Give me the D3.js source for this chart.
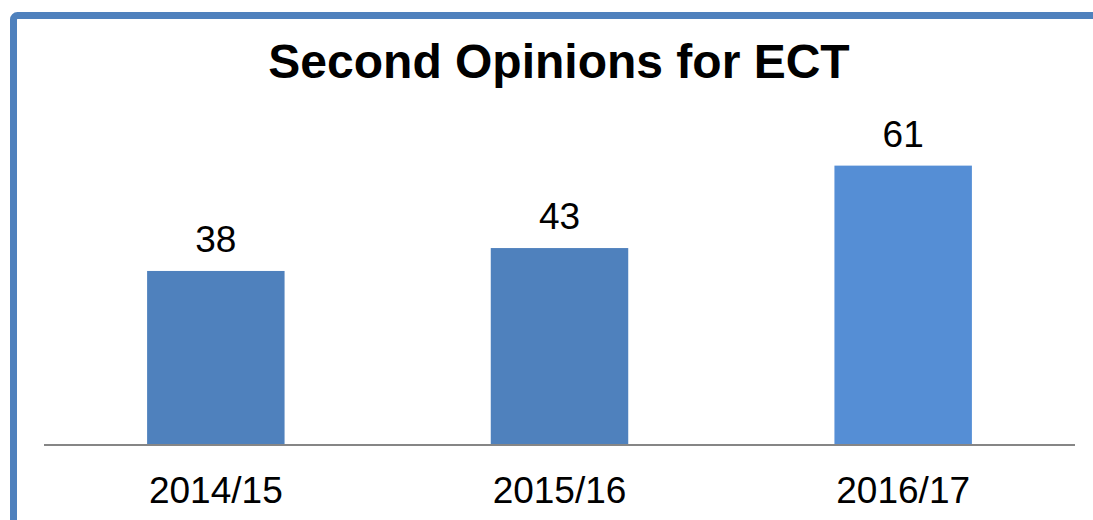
<!DOCTYPE html>
<html>
<head>
<meta charset="utf-8">
<script src="https://cdn.jsdelivr.net/npm/d3@7"></script>
<style>
html,body{margin:0;padding:0;background:#fff;overflow:hidden;}
svg{display:block;font-family:"Liberation Sans",Arial,sans-serif;}
</style>
</head>
<body>
<svg id="chart" width="1093" height="520"></svg>
<script>
const title = "Second Opinions for ECT";
const categories = ["2014/15", "2015/16", "2016/17"];
const values = [38, 43, 61];
const barColors = ["#4F81BD", "#4F81BD", "#558ED5"];

const svg = d3.select("#chart");
const W = 1093, H = 520;

// frame border (top and left visible)
svg.append("rect")
  .attr("x", 13.5).attr("y", 15.5)
  .attr("width", W + 20).attr("height", H + 20)
  .attr("rx", 4)
  .attr("fill", "none")
  .attr("stroke", "#4F81BD")
  .attr("stroke-width", 7);

const baseline = 445;
const x = d3.scaleBand().domain(categories).range([44, 1075]).paddingInner(0.6).paddingOuter(0.3);
const y = d3.scaleLinear().domain([0, 70]).range([baseline, baseline - 320.6]);

svg.append("text")
  .attr("x", 559).attr("y", 78)
  .attr("text-anchor", "middle")
  .attr("font-weight", "bold")
  .attr("font-size", 48)
  .attr("fill", "#000")
  .text(title);

svg.selectAll("rect.bar").data(values).enter().append("rect")
  .attr("class", "bar")
  .attr("x", (d, i) => x(categories[i]))
  .attr("y", d => y(d))
  .attr("width", x.bandwidth())
  .attr("height", d => y(0) - y(d))
  .attr("fill", (d, i) => barColors[i]);

svg.selectAll("text.val").data(values).enter().append("text")
  .attr("class", "val")
  .attr("x", (d, i) => x(categories[i]) + x.bandwidth() / 2)
  .attr("y", d => y(d) - 19)
  .attr("text-anchor", "middle")
  .attr("font-size", 37)
  .attr("fill", "#000")
  .text(d => d);

// category axis
const axis = d3.axisBottom(x).tickSize(0).tickPadding(0);
const gx = svg.append("g").attr("transform", `translate(0,${baseline})`).call(axis);
gx.select(".domain").attr("stroke", "#868686").attr("stroke-width", 2).attr("d", "M44,0H1075");
gx.selectAll(".tick text")
  .attr("font-size", 37)
  .attr("font-family", "'Liberation Sans', Arial, sans-serif")
  .attr("fill", "#000")
  .attr("dy", 0)
  .attr("y", 58);
</script>
</body>
</html>
